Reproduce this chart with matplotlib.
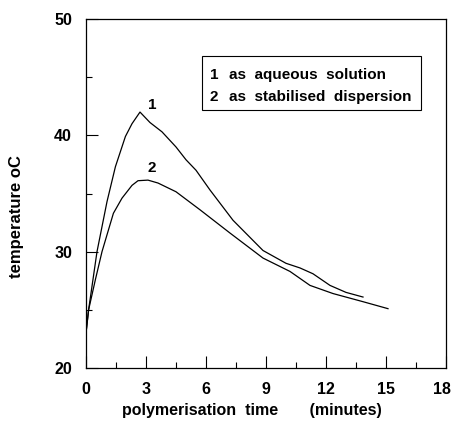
"""
Temperature rise during polymerisation: aqueous solution vs stabilised dispersion.
"""

import matplotlib
matplotlib.use("Agg")
import matplotlib.pyplot as plt
from matplotlib.ticker import MultipleLocator
from matplotlib.transforms import blended_transform_factory, offset_copy

# ---------------------------------------------------------------------------
# Data
# ---------------------------------------------------------------------------

time_1 = [0.0, 0.13, 0.55, 1.05, 1.47, 1.97, 2.3, 2.7, 3.2, 3.8, 4.5, 5.0,
          5.5, 6.2, 7.35, 8.85, 10.0, 10.7, 11.35, 12.2, 13.0, 13.85]
temp_1 = [23.0, 25.0, 30.0, 34.3, 37.3, 39.9, 41.0, 42.0, 41.1, 40.3, 39.0,
          37.9, 37.0, 35.3, 32.7, 30.1, 29.0, 28.6, 28.1, 27.1, 26.5, 26.1]

time_2 = [0.0, 0.13, 0.47, 0.8, 1.37, 1.8, 2.3, 2.6, 3.1, 3.6, 4.5, 5.7,
          7.2, 8.85, 10.2, 11.2, 12.35, 13.85, 15.1]
temp_2 = [23.0, 25.0, 27.6, 30.0, 33.3, 34.6, 35.7, 36.1, 36.15, 35.9, 35.15,
          33.6, 31.6, 29.45, 28.3, 27.1, 26.4, 25.7, 25.1]

x_ticks = [0, 3, 6, 9, 12, 15, 18]
curve_labels = ["1", "2"]
legend_lines = ["as  aqueous  solution", "as  stabilised  dispersion"]

FONT = "Liberation Sans"


def main() -> None:
    fig = plt.figure(figsize=(4.52, 4.25), dpi=100)
    # axes box in pixels: x 86..446, y 19..368 (from top)
    ax = fig.add_axes([86 / 452, 1 - 368 / 425, 360 / 452, 349 / 425])

    ax.plot(time_1, temp_1, color="black", linewidth=0.9)
    ax.plot(time_2, temp_2, color="black", linewidth=0.9)

    ax.set_xlim(0, 18)
    ax.set_ylim(20, 50)

    ax.set_xticks(x_ticks)
    ax.xaxis.set_minor_locator(MultipleLocator(1.5))
    ax.yaxis.set_major_locator(MultipleLocator(10))
    ax.yaxis.set_minor_locator(MultipleLocator(5))
    ax.tick_params(which="major", direction="in", length=8.5, width=0.8,
                   labelsize=11.5, pad=10)
    ax.tick_params(which="minor", direction="in", length=4, width=0.8)
    ax.tick_params(axis="x", labelbottom=False)
    for lab in ax.get_yticklabels():
        lab.set_fontfamily(FONT)
        lab.set_fontweight("bold")
    for sp in ax.spines.values():
        sp.set_linewidth(0.9)

    # x tick labels as plain texts so the last one can sit inside the frame
    trans = offset_copy(blended_transform_factory(ax.transData, ax.transAxes),
                        fig=fig, y=-22, units="dots")
    for t in x_ticks:
        tr = trans
        if t == x_ticks[-1]:
            tr = offset_copy(trans, fig=fig, x=-4, units="dots")
        ax.text(t, 0, str(t), transform=tr, fontsize=11.5, fontweight="bold",
                family=FONT, ha="center", va="center", clip_on=False)

    # curve numbers
    ax.text(3.33, 42.6, curve_labels[0], fontsize=11, fontweight="bold",
            family=FONT, ha="center", va="center")
    ax.text(3.3, 37.2, curve_labels[1], fontsize=11, fontweight="bold",
            family=FONT, ha="center", va="center")

    # legend box drawn as text block
    ax.add_patch(plt.Rectangle((5.8, 42.15), 10.95, 4.7, fill=False,
                               edgecolor="black", linewidth=0.8))
    for i, (num, txt) in enumerate(zip(curve_labels, legend_lines)):
        y = 45.2 - i * 1.9
        ax.text(6.2, y, num, fontsize=11, fontweight="bold", family=FONT,
                ha="left", va="center")
        ax.text(7.15, y, txt, fontsize=11, fontweight="bold", family=FONT,
                ha="left", va="center")

    fig.text(17 / 452, 1 - 217 / 425, "temperature oC", rotation=90,
             fontsize=12, fontweight="bold", family=FONT,
             ha="center", va="center")
    fig.text(252 / 452, 1 - 410 / 425, "polymerisation  time       (minutes)",
             fontsize=11.5, fontweight="bold", family=FONT,
             ha="center", va="center")

    fig.savefig("out.png", dpi=100)
    plt.close(fig)


if __name__ == "__main__":
    main()
